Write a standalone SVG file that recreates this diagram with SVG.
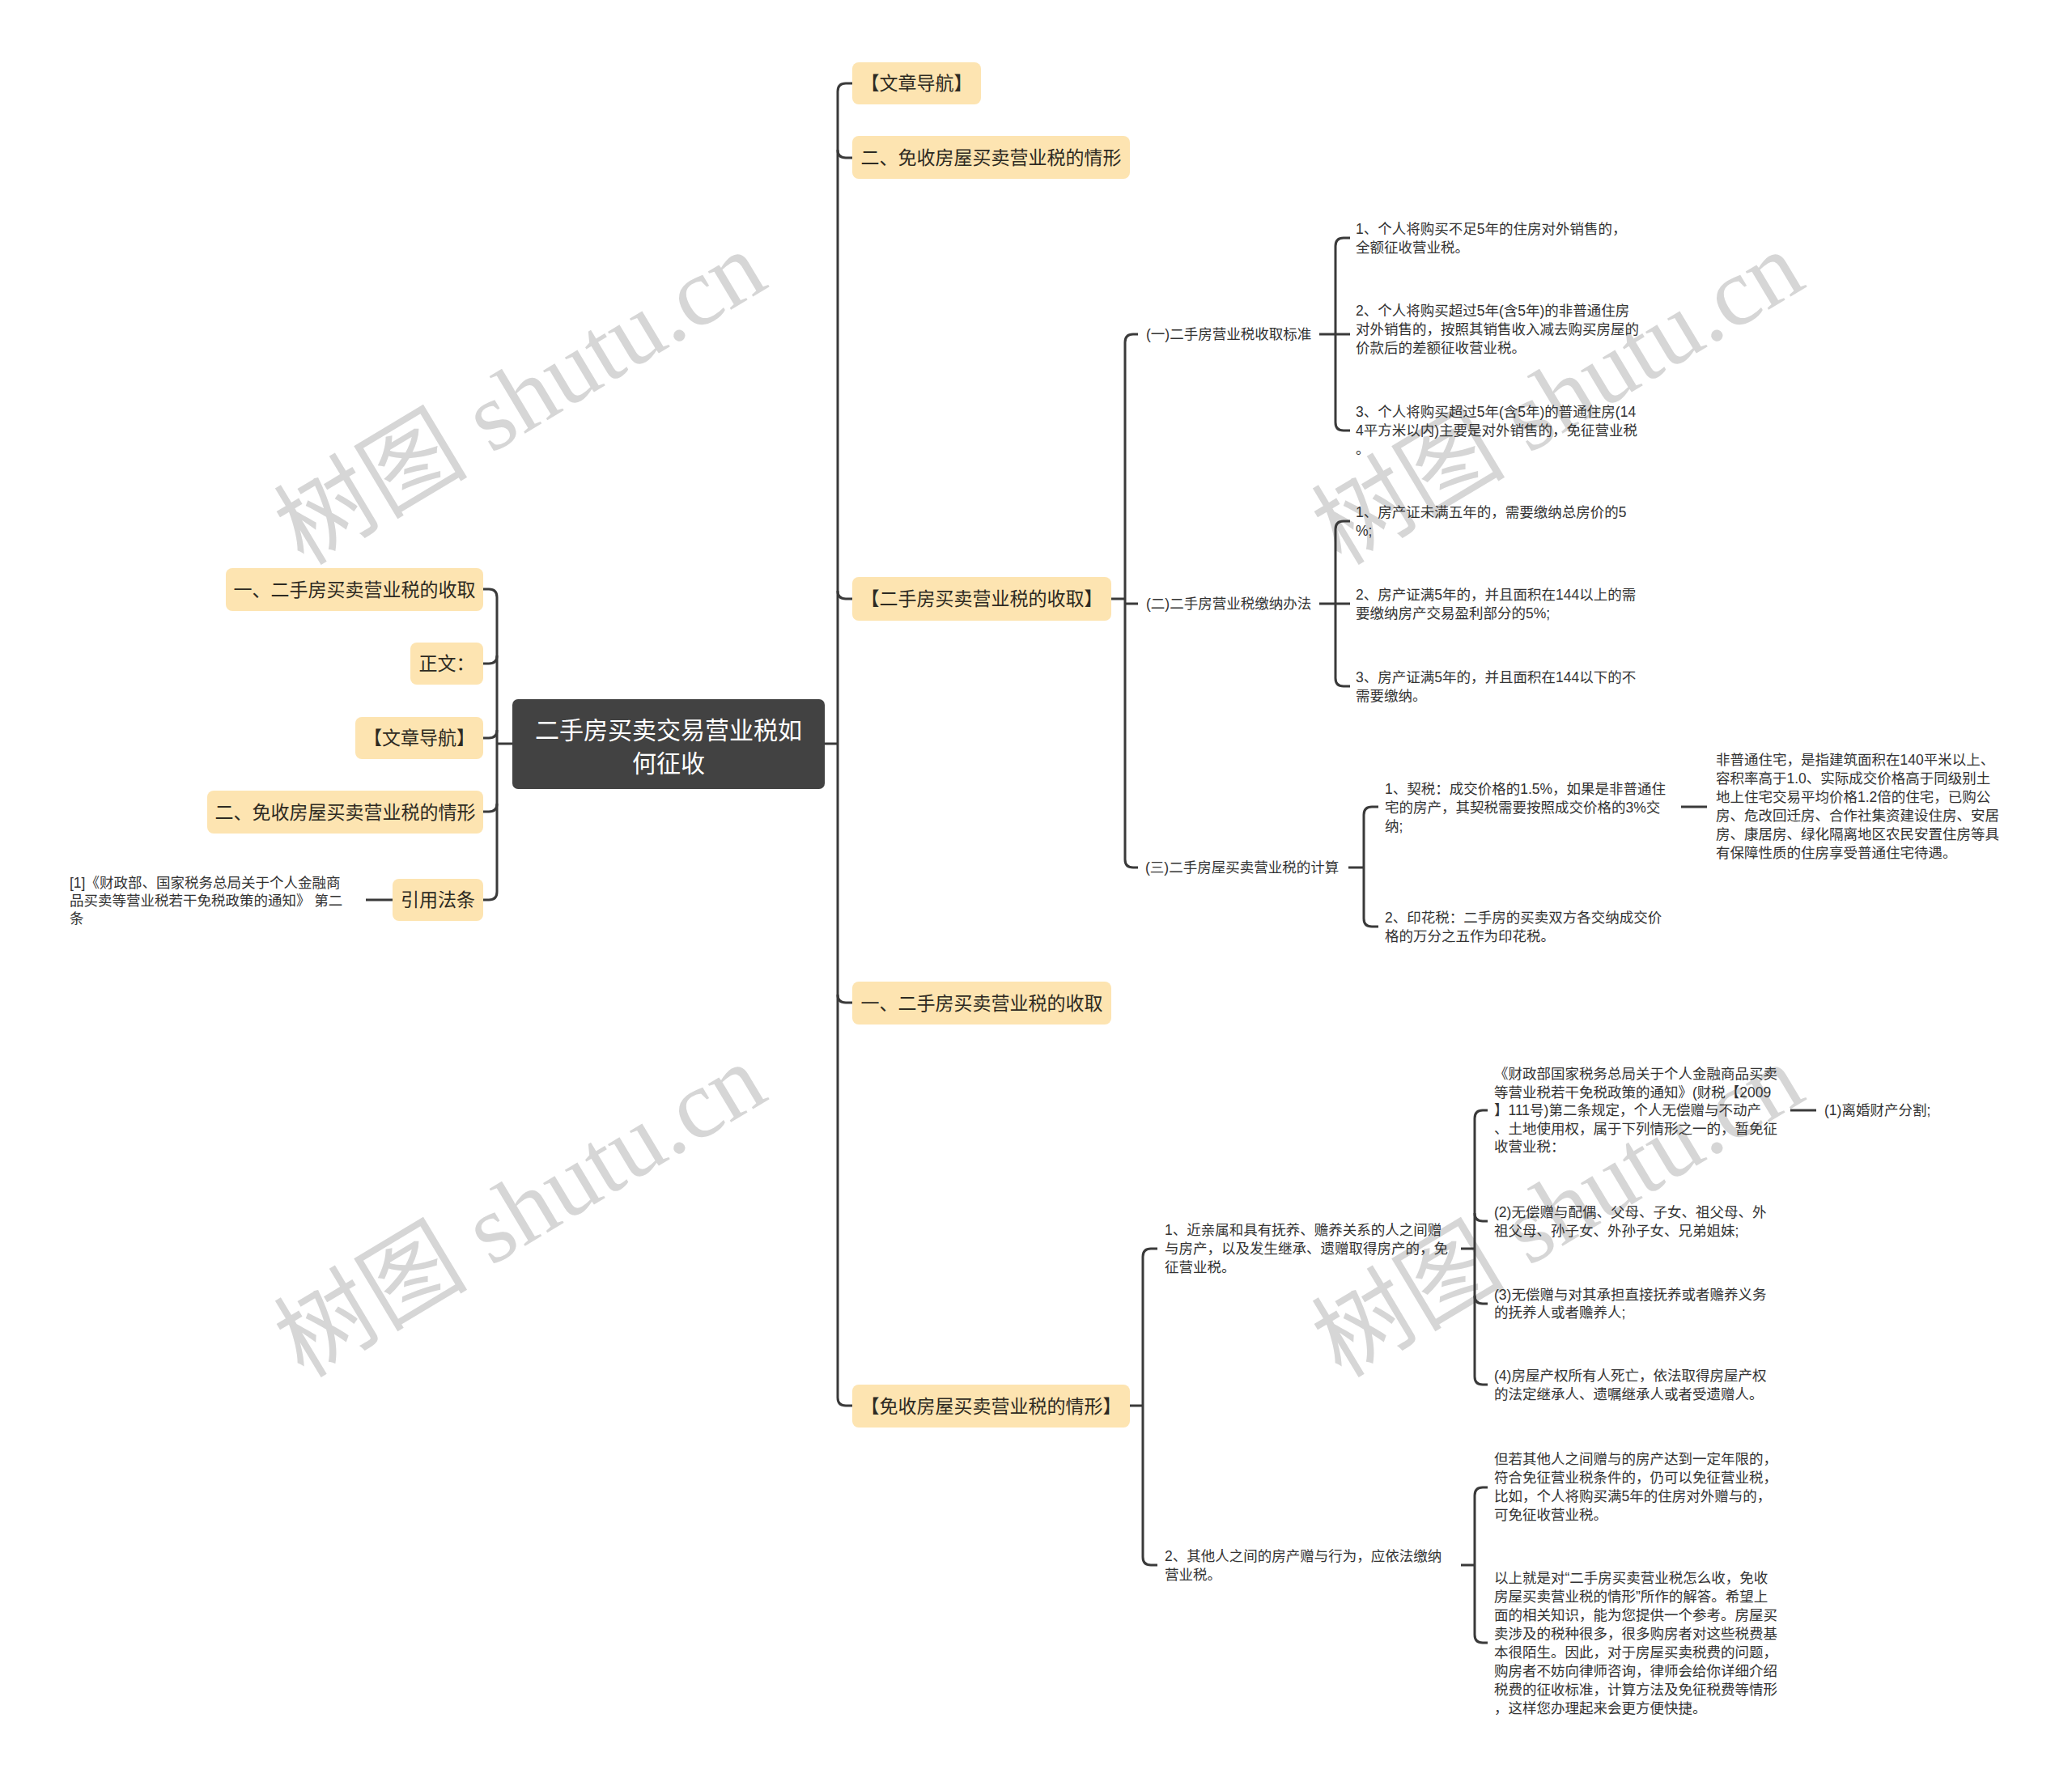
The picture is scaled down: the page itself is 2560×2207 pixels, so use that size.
<svg xmlns="http://www.w3.org/2000/svg" width="2560" height="2207" viewBox="0 0 2560 2207">
<style>
text, tspan { font-family: "Liberation Sans", "Noto Sans CJK SC", sans-serif; dominant-baseline: central; }
.box { fill: #fde4b1; }
.root { fill: #424242; }
.rt { font-size: 30px; fill: #ffffff; text-anchor: middle; }
.bt { font-size: 23px; fill: #2d2a22; text-anchor: middle; }
.t { font-size: 17.5px; fill: #333333; }
.ln { fill: none; stroke: #3a3a3a; stroke-width: 3; }
.wm { font-family: "Liberation Serif", "Noto Sans CJK SC", serif; font-size: 120px; fill: #d6d6d6; dominant-baseline: alphabetic; }
</style>
<rect width="2560" height="2207" fill="#ffffff"/>
<g id="watermarks">
<text class="wm" x="375" y="700" transform="rotate(-31 375 700)">树图 shutu.cn</text>
<text class="wm" x="1657" y="700" transform="rotate(-31 1657 700)">树图 shutu.cn</text>
<text class="wm" x="375" y="1704" transform="rotate(-31 375 1704)">树图 shutu.cn</text>
<text class="wm" x="1657" y="1704" transform="rotate(-31 1657 1704)">树图 shutu.cn</text>
</g>
<g id="connectors">
<path class="ln" d="M1019,919 H1035"/>
<path class="ln" d="M1053,103 H1045 Q1035,103 1035,113 V1727 Q1035,1737 1045,1737 H1053"/>
<path class="ln" d="M1035,185 Q1035,195 1045,195 H1053"/>
<path class="ln" d="M1035,730 Q1035,740 1045,740 H1053"/>
<path class="ln" d="M1035,1229 Q1035,1239 1045,1239 H1053"/>
<path class="ln" d="M633,919 H614"/>
<path class="ln" d="M597,728 H604 Q614,728 614,738 V1102 Q614,1112 604,1112 H597"/>
<path class="ln" d="M614,810 Q614,820 604,820 H597"/>
<path class="ln" d="M614,902 Q614,912 604,912 H597"/>
<path class="ln" d="M614,993 Q614,1003 604,1003 H597"/>
<path class="ln" d="M485,1112 H452"/>
<path class="ln" d="M1373,740 H1390"/>
<path class="ln" d="M1406,413 H1400 Q1390,413 1390,423 V1062 Q1390,1072 1400,1072 H1406"/>
<path class="ln" d="M1390,746 H1406"/>
<path class="ln" d="M1630,413 H1668"/>
<path class="ln" d="M1668,294 H1660 Q1650,294 1650,304 V522 Q1650,532 1660,532 H1668"/>
<path class="ln" d="M1630,746 H1668"/>
<path class="ln" d="M1668,644 H1660 Q1650,644 1650,654 V838 Q1650,848 1660,848 H1668"/>
<path class="ln" d="M1666,1072 H1685"/>
<path class="ln" d="M1703,997 H1695 Q1685,997 1685,1007 V1135 Q1685,1145 1695,1145 H1703"/>
<path class="ln" d="M2077,997 H2109"/>
<path class="ln" d="M1396,1737 H1412"/>
<path class="ln" d="M1430,1543 H1422 Q1412,1543 1412,1553 V1924 Q1412,1934 1422,1934 H1430"/>
<path class="ln" d="M1805,1543 H1822"/>
<path class="ln" d="M1838,1372 H1832 Q1822,1372 1822,1382 V1701 Q1822,1711 1832,1711 H1838"/>
<path class="ln" d="M1822,1499 Q1822,1509 1832,1509 H1838"/>
<path class="ln" d="M1822,1601 Q1822,1611 1832,1611 H1838"/>
<path class="ln" d="M2212,1372 H2244"/>
<path class="ln" d="M1805,1934 H1822"/>
<path class="ln" d="M1838,1838 H1832 Q1822,1838 1822,1848 V2020 Q1822,2030 1832,2030 H1838"/>
</g>
<g id="root">
<rect class="root" x="633" y="864" width="386" height="111" rx="7"/>
<text class="rt"><tspan x="826" y="902">二手房买卖交易营业税如</tspan><tspan x="826" y="943">何征收</tspan></text>
</g>
<g id="left-1">
<rect class="box" x="279" y="702" width="318" height="53" rx="8"/>
<text class="bt" x="438" y="728.5">一、二手房买卖营业税的收取</text>
</g>
<g id="left-2">
<rect class="box" x="507" y="794" width="90" height="52" rx="8"/>
<text class="bt" x="552" y="820">正文：</text>
</g>
<g id="left-3">
<rect class="box" x="439" y="886" width="158" height="52" rx="8"/>
<text class="bt" x="518" y="912">【文章导航】</text>
</g>
<g id="left-4">
<rect class="box" x="256" y="977" width="341" height="53" rx="8"/>
<text class="bt" x="426.5" y="1003.5">二、免收房屋买卖营业税的情形</text>
</g>
<g id="left-5">
<rect class="box" x="485" y="1086" width="112" height="52" rx="8"/>
<text class="bt" x="541" y="1112">引用法条</text>
</g>
<g id="left-5-1">
<text class="t"><tspan x="86" y="1091">[1]《财政部、国家税务总局关于个人金融商</tspan><tspan x="86" y="1113">品买卖等营业税若干免税政策的通知》 第二</tspan><tspan x="86" y="1135">条</tspan></text>
</g>
<g id="right-1">
<rect class="box" x="1053" y="77" width="159" height="52" rx="8"/>
<text class="bt" x="1132.5" y="103">【文章导航】</text>
</g>
<g id="right-2">
<rect class="box" x="1053" y="168" width="343" height="53" rx="8"/>
<text class="bt" x="1224.5" y="194.5">二、免收房屋买卖营业税的情形</text>
</g>
<g id="right-3">
<rect class="box" x="1053" y="713" width="320" height="54" rx="8"/>
<text class="bt" x="1213" y="740">【二手房买卖营业税的收取】</text>
</g>
<g id="right-4">
<rect class="box" x="1053" y="1213" width="320" height="53" rx="8"/>
<text class="bt" x="1213" y="1239.5">一、二手房买卖营业税的收取</text>
</g>
<g id="right-5">
<rect class="box" x="1053" y="1711" width="343" height="53" rx="8"/>
<text class="bt" x="1224.5" y="1737.5">【免收房屋买卖营业税的情形】</text>
</g>
<g id="r3-1">
<text class="t" x="1416" y="413">(一)二手房营业税收取标准</text>
</g>
<g id="r3-1-1">
<text class="t"><tspan x="1675" y="283">1、个人将购买不足5年的住房对外销售的，</tspan><tspan x="1675" y="306">全额征收营业税。</tspan></text>
</g>
<g id="r3-1-2">
<text class="t"><tspan x="1675" y="384">2、个人将购买超过5年(含5年)的非普通住房</tspan><tspan x="1675" y="407">对外销售的，按照其销售收入减去购买房屋的</tspan><tspan x="1675" y="430">价款后的差额征收营业税。</tspan></text>
</g>
<g id="r3-1-3">
<text class="t"><tspan x="1675" y="509">3、个人将购买超过5年(含5年)的普通住房(14</tspan><tspan x="1675" y="532">4平方米以内)主要是对外销售的，免征营业税</tspan><tspan x="1675" y="555">。</tspan></text>
</g>
<g id="r3-2">
<text class="t" x="1416" y="746">(二)二手房营业税缴纳办法</text>
</g>
<g id="r3-2-1">
<text class="t"><tspan x="1675" y="633">1、房产证未满五年的，需要缴纳总房价的5</tspan><tspan x="1675" y="656">%;</tspan></text>
</g>
<g id="r3-2-2">
<text class="t"><tspan x="1675" y="735">2、房产证满5年的，并且面积在144以上的需</tspan><tspan x="1675" y="758">要缴纳房产交易盈利部分的5%;</tspan></text>
</g>
<g id="r3-2-3">
<text class="t"><tspan x="1675" y="837">3、房产证满5年的，并且面积在144以下的不</tspan><tspan x="1675" y="860">需要缴纳。</tspan></text>
</g>
<g id="r3-3">
<text class="t" x="1415" y="1072">(三)二手房屋买卖营业税的计算</text>
</g>
<g id="r3-3-1">
<text class="t"><tspan x="1711" y="975">1、契税：成交价格的1.5%，如果是非普通住</tspan><tspan x="1711" y="998">宅的房产，其契税需要按照成交价格的3%交</tspan><tspan x="1711" y="1021">纳;</tspan></text>
</g>
<g id="r3-3-1-1">
<text class="t"><tspan x="2120" y="939">非普通住宅，是指建筑面积在140平米以上、</tspan><tspan x="2120" y="962">容积率高于1.0、实际成交价格高于同级别土</tspan><tspan x="2120" y="985">地上住宅交易平均价格1.2倍的住宅，已购公</tspan><tspan x="2120" y="1008">房、危改回迁房、合作社集资建设住房、安居</tspan><tspan x="2120" y="1031">房、康居房、绿化隔离地区农民安置住房等具</tspan><tspan x="2120" y="1054">有保障性质的住房享受普通住宅待遇。</tspan></text>
</g>
<g id="r3-3-2">
<text class="t"><tspan x="1711" y="1134">2、印花税：二手房的买卖双方各交纳成交价</tspan><tspan x="1711" y="1157">格的万分之五作为印花税。</tspan></text>
</g>
<g id="r5-1">
<text class="t"><tspan x="1439" y="1520">1、近亲属和具有抚养、赡养关系的人之间赠</tspan><tspan x="1439" y="1543">与房产，以及发生继承、遗赠取得房产的，免</tspan><tspan x="1439" y="1566">征营业税。</tspan></text>
</g>
<g id="r5-1-1">
<text class="t"><tspan x="1846" y="1327">《财政部国家税务总局关于个人金融商品买卖</tspan><tspan x="1846" y="1349.5">等营业税若干免税政策的通知》(财税【2009</tspan><tspan x="1846" y="1372">】111号)第二条规定，个人无偿赠与不动产</tspan><tspan x="1846" y="1394.5">、土地使用权，属于下列情形之一的，暂免征</tspan><tspan x="1846" y="1417">收营业税：</tspan></text>
</g>
<g id="r5-1-1-1">
<text class="t" x="2254" y="1372">(1)离婚财产分割;</text>
</g>
<g id="r5-1-2">
<text class="t"><tspan x="1846" y="1498">(2)无偿赠与配偶、父母、子女、祖父母、外</tspan><tspan x="1846" y="1521">祖父母、孙子女、外孙子女、兄弟姐妹;</tspan></text>
</g>
<g id="r5-1-3">
<text class="t"><tspan x="1846" y="1600">(3)无偿赠与对其承担直接抚养或者赡养义务</tspan><tspan x="1846" y="1622">的抚养人或者赡养人;</tspan></text>
</g>
<g id="r5-1-4">
<text class="t"><tspan x="1846" y="1700">(4)房屋产权所有人死亡，依法取得房屋产权</tspan><tspan x="1846" y="1723">的法定继承人、遗嘱继承人或者受遗赠人。</tspan></text>
</g>
<g id="r5-2">
<text class="t"><tspan x="1439" y="1923">2、其他人之间的房产赠与行为，应依法缴纳</tspan><tspan x="1439" y="1946">营业税。</tspan></text>
</g>
<g id="r5-2-1">
<text class="t"><tspan x="1846" y="1803">但若其他人之间赠与的房产达到一定年限的，</tspan><tspan x="1846" y="1826">符合免征营业税条件的，仍可以免征营业税，</tspan><tspan x="1846" y="1849">比如，个人将购买满5年的住房对外赠与的，</tspan><tspan x="1846" y="1872">可免征收营业税。</tspan></text>
</g>
<g id="r5-2-2">
<text class="t"><tspan x="1846" y="1950">以上就是对“二手房买卖营业税怎么收，免收</tspan><tspan x="1846" y="1973">房屋买卖营业税的情形”所作的解答。希望上</tspan><tspan x="1846" y="1996">面的相关知识，能为您提供一个参考。房屋买</tspan><tspan x="1846" y="2019">卖涉及的税种很多，很多购房者对这些税费基</tspan><tspan x="1846" y="2042">本很陌生。因此，对于房屋买卖税费的问题，</tspan><tspan x="1846" y="2065">购房者不妨向律师咨询，律师会给你详细介绍</tspan><tspan x="1846" y="2088">税费的征收标准，计算方法及免征税费等情形</tspan><tspan x="1846" y="2111">，这样您办理起来会更方便快捷。</tspan></text>
</g>
</svg>
